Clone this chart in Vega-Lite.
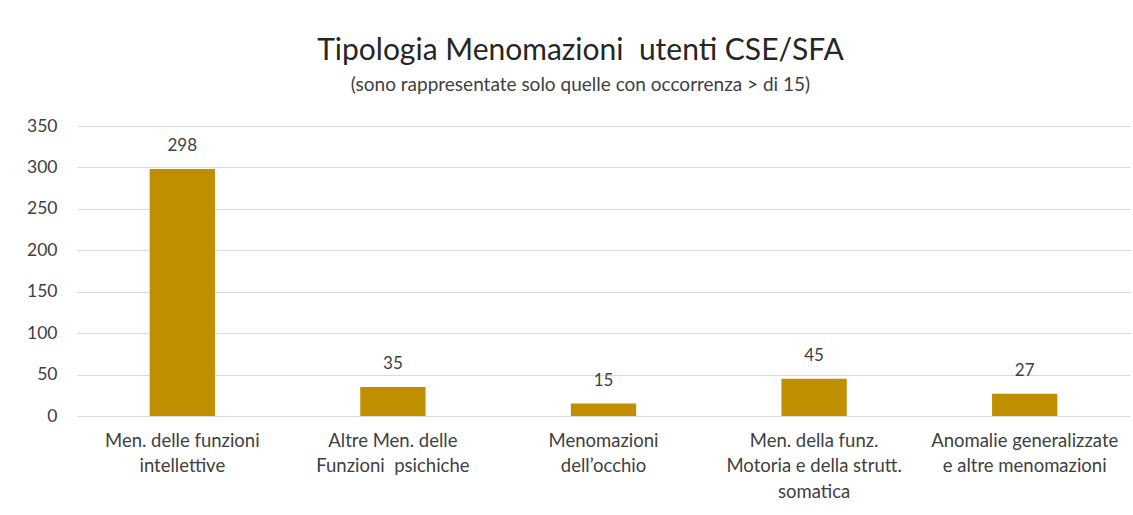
{
  "$schema": "https://vega.github.io/schema/vega-lite/v6.json",
  "autosize": {"type": "none"},
  "width": 1053,
  "height": 290,
  "padding": {"left": 77, "top": 126, "right": 3, "bottom": 99},
  "background": "white",
  "config": {
    "font": "Lato",
    "view": {"stroke": null}
  },
  "title": {
    "text": "Tipologia Menomazioni \u00a0utenti CSE/SFA",
    "subtitle": "(sono rappresentate solo quelle con occorrenza > di 15)",
    "font": "Lato",
    "fontSize": 30,
    "fontWeight": "normal",
    "color": "#262626",
    "subtitleFont": "Lato",
    "subtitleFontSize": 19,
    "subtitleColor": "#404040",
    "subtitlePadding": 10,
    "anchor": "middle",
    "frame": "group",
    "dx": -23,
    "offset": 22
  },
  "data": {
    "values": [
      {"cat": "Men. delle funzioni|intellettive", "v": 298},
      {"cat": "Altre Men. delle|Funzioni \u00a0psichiche", "v": 35},
      {"cat": "Menomazioni|dell’occhio", "v": 15},
      {"cat": "Men. della funz.|Motoria e della strutt.|somatica", "v": 45},
      {"cat": "Anomalie generalizzate|e altre menomazioni", "v": 27}
    ]
  },
  "encoding": {
    "x": {
      "field": "cat",
      "type": "nominal",
      "sort": null,
      "scale": {"paddingInner": 0.69, "paddingOuter": 0.345},
      "axis": {
        "title": null,
        "labelAngle": 0,
        "labelExpr": "split(datum.label, '|')",
        "labelFontSize": 18.5,
        "labelLimit": 300,
        "labelColor": "#404040",
        "labelLineHeight": 25.5,
        "labelPadding": 15,
        "labelBaseline": "top",
        "ticks": false,
        "tickSize": 0,
        "domain": false,
        "grid": false
      }
    },
    "y": {
      "field": "v",
      "type": "quantitative",
      "scale": {"domain": [0, 350], "nice": false},
      "axis": {
        "title": null,
        "values": [0, 50, 100, 150, 200, 250, 300, 350],
        "labelFontSize": 17.5,
        "labelColor": "#404040",
        "labelPadding": 20,
        "ticks": false,
        "tickSize": 0,
        "domain": false,
        "gridColor": "#d9d9d9",
        "gridWidth": 1
      }
    }
  },
  "layer": [
    {"mark": {"type": "bar", "color": "#BF8F00"}},
    {
      "mark": {"type": "text", "baseline": "bottom", "dy": -14, "fontSize": 17, "color": "#404040"},
      "encoding": {"text": {"field": "v", "type": "quantitative"}}
    }
  ]
}
